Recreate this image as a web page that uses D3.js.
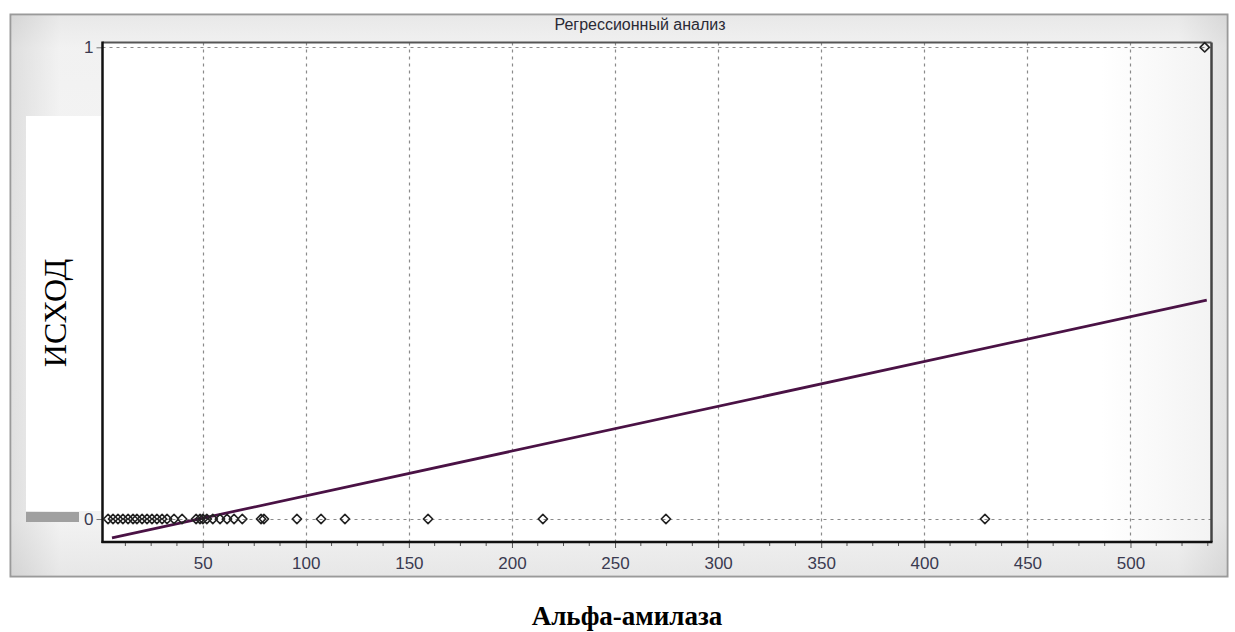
<!DOCTYPE html>
<html><head><meta charset="utf-8">
<script src="https://cdn.jsdelivr.net/npm/d3@7"></script>
<style>body{margin:0;background:#fff}svg{display:block}</style>
</head><body>
<svg id="c" width="1235" height="632"></svg>
<script>
const title = "Регрессионный анализ";
const xLabel = "Альфа-амилаза";
const yLabel = "ИСХОД";
const xTicks = [50,100,150,200,250,300,350,400,450,500];
const yTicks = [0,1];
// observations: amylase value and outcome
const xValues = [4.1,6.5,8.9,11.3,13.8,16.2,18.1,20.6,23,25.4,27.8,30.3,32.7,36.1,40,46.8,48.7,50.1,52,54.9,58.4,61.8,65.2,69.2,78.3,79.7,95.7,107.4,119,159.3,215,274.7,429.4,536];
const yValues = [0,0,0,0,0,0,0,0,0,0,0,0,0,0,0,0,0,0,0,0,0,0,0,0,0,0,0,0,0,0,0,0,0,1];
// regression line endpoints (x) and fitted coefficients
const lineX = [6,537];
const slope = 0.000949, intercept = -0.0457;

const svg = d3.select("#c");
const defs = svg.append("defs");
const g1 = defs.append("linearGradient").attr("id","pg").attr("x1",0).attr("y1",0).attr("x2",0).attr("y2",1);
[[0,"#dcdcdc"],[0.06,"#f4f4f4"],[0.5,"#fbfbfb"],[0.9,"#f6f6f6"],[1,"#d9d9d9"]].forEach(s=>g1.append("stop").attr("offset",s[0]).attr("stop-color",s[1]));
const g2 = defs.append("linearGradient").attr("id","ph").attr("x1",0).attr("y1",0).attr("x2",1).attr("y2",0);
[[0,"#d0d0d0"],[0.04,"#f0f0f0"],[0.96,"#f0f0f0"],[1,"#d4d4d4"]].forEach(s=>g2.append("stop").attr("offset",s[0]).attr("stop-color",s[1]).attr("stop-opacity",0.6));
const g3 = defs.append("linearGradient").attr("id","pl").attr("x1",0).attr("y1",0).attr("x2",1).attr("y2",0);
[[0,"#ffffff"],[0.9,"#ffffff"],[1,"#f3f3f3"]].forEach(s=>g3.append("stop").attr("offset",s[0]).attr("stop-color",s[1]));

// panel
svg.append("rect").attr("x",10.5).attr("y",14.5).attr("width",1217).attr("height",562)
  .attr("fill","url(#pg)").attr("stroke","#9a9a9a").attr("stroke-width",2);
svg.append("rect").attr("x",11.5).attr("y",15.5).attr("width",1215).attr("height",560)
  .attr("fill","url(#ph)");

const L=102.5, R=1211.5, T=42.5, B=542;
const x = d3.scaleLinear().domain([1.4,539.3]).range([L,R]);
const y = d3.scaleLinear().domain([-0.0487,1.0102]).range([B,T]);

svg.append("rect").attr("x",L).attr("y",T).attr("width",R-L).attr("height",B-T).attr("fill","url(#pl)");

// title
svg.append("text").attr("x",640).attr("y",30).attr("text-anchor","middle")
  .attr("font-family","Liberation Sans, Arial, sans-serif").attr("font-size",16).attr("fill","#2a2a35").text(title);

// grid
const grid = svg.append("g").attr("stroke","#8a8a8a").attr("stroke-width",1.2).attr("stroke-dasharray","3,4").attr("fill","none");
grid.selectAll("line.v").data(xTicks).join("line").attr("x1",d=>Math.round(x(d))+0.5).attr("x2",d=>Math.round(x(d))+0.5).attr("y1",T).attr("y2",B);
grid.selectAll("line.h").data(yTicks).join("line").attr("x1",L).attr("x2",R).attr("y1",d=>Math.round(y(d))+0.5).attr("y2",d=>Math.round(y(d))+0.5);

// x axis
const xAxis = d3.axisBottom(x).tickValues(xTicks).tickSize(6).tickPadding(9).tickFormat(d3.format("d"));
const xa = svg.append("g").attr("transform",`translate(0,${B})`).call(xAxis);
const minor = d3.range(12.5,539,12.5).filter(v=>v%50!==0);
xa.selectAll(".minor").data(minor).join("line").attr("class","minor").attr("x1",d=>x(d)).attr("x2",d=>x(d)).attr("y1",0).attr("y2",4).attr("stroke","#555");
xa.select(".domain").remove();
xa.selectAll(".tick line").attr("stroke","#555");
xa.selectAll("text").attr("font-family","Liberation Sans, Arial, sans-serif").attr("font-size",17).attr("fill","#3a3a50");

// y axis
const yAxis = d3.axisLeft(y).tickValues(yTicks).tickSize(6).tickPadding(3).tickFormat(d3.format("d"));
const ya = svg.append("g").attr("transform",`translate(${L},0)`).call(yAxis);
ya.select(".domain").remove();
ya.selectAll(".tick line").attr("stroke","#777");
ya.selectAll("text").attr("font-family","Liberation Sans, Arial, sans-serif").attr("font-size",17).attr("fill","#3a3a50");

// frame
svg.append("line").attr("x1",L).attr("x2",R).attr("y1",T).attr("y2",T).attr("stroke","#555").attr("stroke-width",2);
svg.append("line").attr("x1",R).attr("x2",R).attr("y1",T).attr("y2",B).attr("stroke","#444").attr("stroke-width",2.5);
svg.append("line").attr("x1",L).attr("x2",L).attr("y1",T-1).attr("y2",B+1).attr("stroke","#111").attr("stroke-width",2.5);
svg.append("line").attr("x1",L-1).attr("x2",R+1).attr("y1",B).attr("y2",B).attr("stroke","#111").attr("stroke-width",2.5);

// regression line
svg.append("line").attr("x1",x(lineX[0])).attr("y1",y(intercept+slope*lineX[0]))
  .attr("x2",x(lineX[1])).attr("y2",y(intercept+slope*lineX[1]))
  .attr("stroke","#4a1245").attr("stroke-width",2.8);

// points
const sym = d3.symbol().type(d3.symbolDiamond2).size(55);
svg.append("g").selectAll("path").data(xValues.map((v,i)=>[v,yValues[i]])).join("path")
  .attr("d",sym).attr("transform",d=>`translate(${x(d[0])},${y(d[1])})`)
  .attr("fill","none").attr("stroke","#222").attr("stroke-width",1.6).attr("stroke-linejoin","round");

// overlay patches (pasted label area)
svg.append("rect").attr("x",26).attr("y",116).attr("width",75).attr("height",395).attr("fill","#fff");
svg.append("rect").attr("x",26).attr("y",512).attr("width",53).attr("height",10).attr("fill","#a0a0a0");

// axis titles
svg.append("text").attr("transform","translate(66,313) rotate(-90)").attr("text-anchor","middle")
  .attr("font-family","Liberation Serif, Times New Roman, serif").attr("font-size",32).attr("fill","#000").text(yLabel);
svg.append("text").attr("x",627).attr("y",625).attr("text-anchor","middle")
  .attr("font-family","Liberation Serif, Times New Roman, serif").attr("font-weight","bold").attr("font-size",27).attr("fill","#000").text(xLabel);
</script>
</body></html>
